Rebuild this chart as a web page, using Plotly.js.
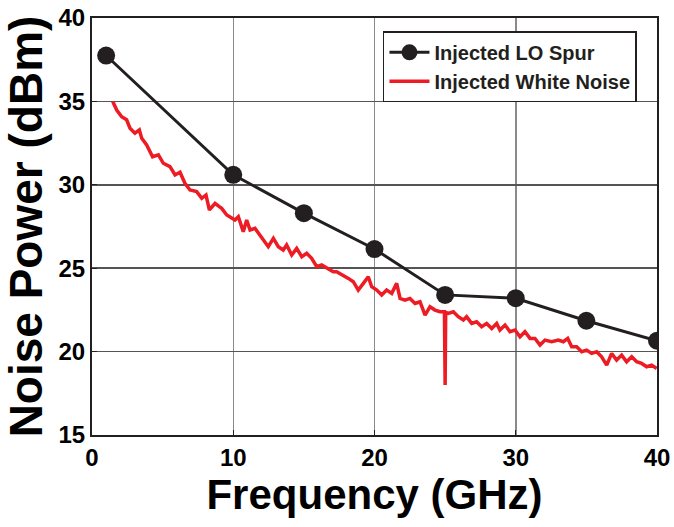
<!DOCTYPE html>
<html>
<head>
<meta charset="utf-8">
<script src="https://cdn.plot.ly/plotly-3.0.1.min.js"></script>
<style>html,body{margin:0;padding:0;background:#fff;}#chart{width:674px;height:527px;}</style>
</head>
<body>
<div id="chart"></div>
<script>
// Injected LO Spur (black markers)
const spurFreq = [1, 10, 15, 20, 25, 30, 35, 40];
const spurPower = [37.75, 30.6, 28.3, 26.15, 23.4, 23.2, 21.85, 20.65];

// Injected White Noise (red trace)
const noiseFreq = [1.47,1.75,2.10,2.45,2.69,3.04,3.35,3.52,3.87,4.29,4.70,5.05,5.52,5.88,6.23,6.58,6.94,7.41,7.77,8.07,8.31,8.71,9.01,9.18,9.54,9.89,10.12,10.36,10.71,10.95,11.19,11.54,11.89,12.25,12.48,12.84,13.19,13.54,13.78,14.14,14.49,14.85,15.20,15.55,15.91,16.26,16.73,17.08,17.32,17.79,18.15,18.50,18.85,19.21,19.56,19.80,20.16,20.51,20.86,21.22,21.57,21.81,22.16,22.51,22.87,23.22,23.58,23.93,24.28,24.64,24.95,25.0,25.04,25.22,25.58,25.93,26.29,26.52,26.88,27.23,27.59,27.94,28.30,28.65,28.88,29.24,29.59,29.95,30.30,30.65,31.01,31.36,31.72,32.07,32.54,33.01,33.37,33.68,33.96,34.31,34.67,35.02,35.37,35.73,36.08,36.44,36.79,37.14,37.50,37.85,38.21,38.56,38.91,39.27,39.62,39.98];
const noisePower = [35.0,34.48,34.08,33.9,33.39,33.09,33.29,32.79,32.39,31.68,31.79,31.29,31.09,30.59,30.75,30.09,29.69,29.59,29.19,29.39,28.49,28.89,28.69,28.59,28.19,27.99,27.89,28.09,27.19,27.89,27.29,27.39,26.99,26.59,26.29,26.79,26.29,26.09,26.39,25.79,26.19,25.69,25.89,25.59,25.09,25.19,24.99,24.79,24.79,24.59,24.39,24.19,23.69,24.09,24.49,23.89,23.69,23.39,23.69,23.49,24.09,23.19,23.09,23.19,22.89,22.99,22.19,22.69,22.49,22.39,22.39,18.0,22.35,22.29,22.39,22.09,21.89,22.09,21.69,21.79,21.49,21.69,21.39,21.69,21.29,21.59,21.19,21.29,20.89,21.19,20.79,20.79,20.39,20.69,20.59,20.69,20.59,20.79,20.29,20.29,19.99,20.09,19.89,19.99,19.69,19.19,19.89,19.49,19.79,19.39,19.69,19.39,19.29,19.09,19.19,18.99];

const xTicks = [0, 10, 20, 30, 40];
const yTicks = [15, 20, 25, 30, 35, 40];

const tickFont = {family: '"Liberation Sans Narrow", "Arial Narrow", Arial, sans-serif', size: 24, color: '#000', weight: 'bold'};
const titleFamily = 'Liberation Sans, Arial, sans-serif';

const traces = [
  {
    x: spurFreq, y: spurPower, type: 'scatter', mode: 'lines+markers',
    name: 'Injected LO Spur',
    line: {color: '#231f20', width: 3},
    marker: {color: '#231f20', size: 18}
  },
  {
    x: noiseFreq, y: noisePower, type: 'scatter', mode: 'lines',
    name: 'Injected White Noise',
    line: {color: '#ed1c24', width: 3.5}
  }
];

const layout = {
  width: 674, height: 527,
  margin: {l: 92, r: 17, t: 18, b: 92},
  paper_bgcolor: '#fff', plot_bgcolor: '#fff',
  showlegend: true,
  legend: {
    x: 0.515, y: 0.968, xanchor: 'left', yanchor: 'top',
    bgcolor: '#fff', bordercolor: '#231f20', borderwidth: 1.5,
    font: {family: titleFamily, size: 20, color: '#231f20', weight: 'bold'},
    tracegroupgap: 0, itemwidth: 40
  },
  xaxis: {
    range: [0, 40], tickvals: xTicks, ticktext: xTicks.map(String),
    showgrid: true, gridcolor: '#8a8a8a', gridwidth: 1.5,
    zeroline: false, showline: true, linecolor: '#231f20', linewidth: 2, mirror: true,
    ticks: 'inside', ticklen: 5, tickcolor: '#231f20',
    tickfont: tickFont,
    title: {text: 'Frequency (GHz)', standoff: 8, font: {family: titleFamily, size: 42, color: '#000', weight: 'bold'}}
  },
  yaxis: {
    range: [15, 40], tickvals: yTicks, ticktext: yTicks.map(String),
    showgrid: true, gridcolor: '#555', gridwidth: 1.5,
    zeroline: false, showline: true, linecolor: '#231f20', linewidth: 2, mirror: true,
    ticks: 'inside', ticklen: 5, tickcolor: '#231f20',
    tickfont: tickFont,
    title: {text: 'Noise Power (dBm)', standoff: 4, font: {family: titleFamily, size: 46, color: '#000', weight: 'bold'}}
  }
};

Plotly.newPlot('chart', traces, layout, {displayModeBar: false, staticPlot: true});
</script>
</body>
</html>
